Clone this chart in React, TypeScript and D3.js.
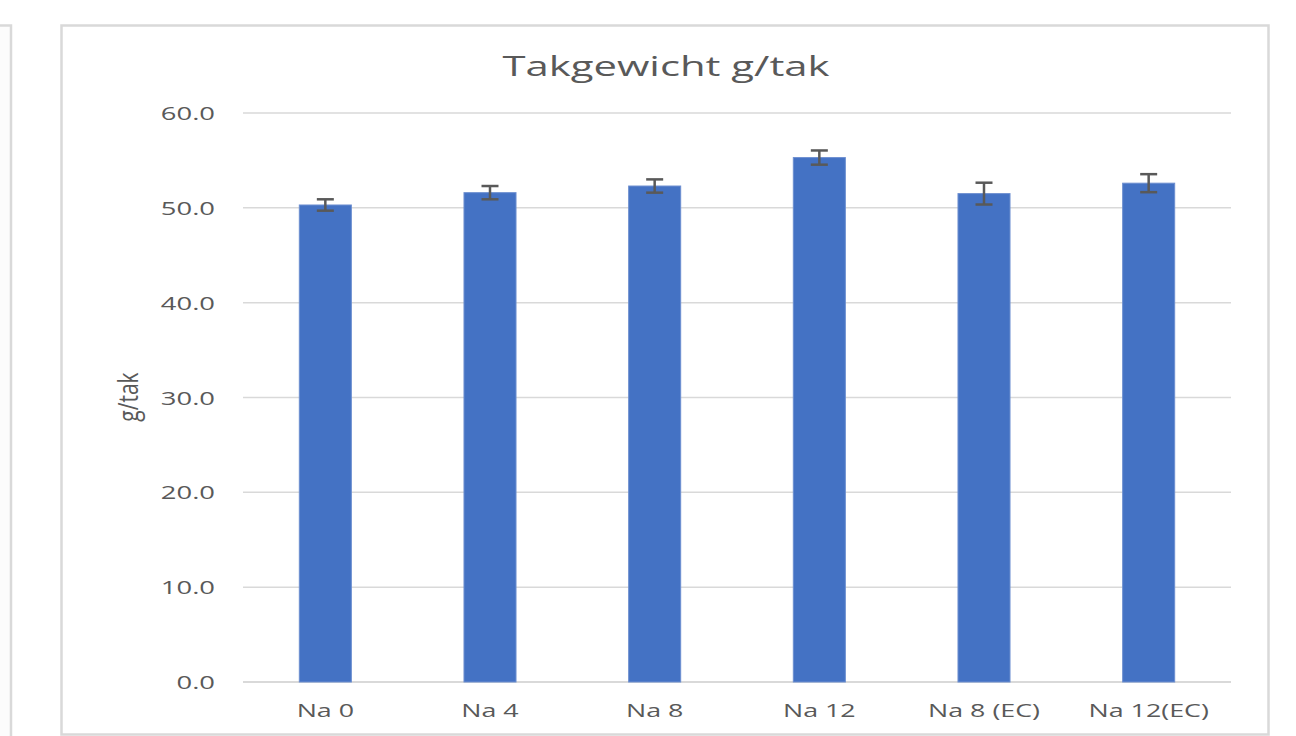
import React from "react";
import { scaleBand, scaleLinear } from "d3";

const width = 1296;
const height = 736;

const categories = ["Na 0", "Na 4", "Na 8", "Na 12", "Na 8 (EC)", "Na 12(EC)"];
const values = [50.3, 51.6, 52.3, 55.3, 51.5, 52.6];
const errors = [0.6, 0.7, 0.7, 0.75, 1.15, 0.95];
const yTicks = [0, 10, 20, 30, 40, 50, 60];
const title = "Takgewicht g/tak";
const yTitle = "g/tak";

const plotLeft = 243;
const plotRight = 1231;
const plotTop = 113;
const plotBottom = 682;

const xScale = scaleBand<string>()
  .domain(categories)
  .range([plotLeft, plotRight])
  .paddingInner(0.684)
  .paddingOuter(0.342);

const yScale = scaleLinear().domain([0, 60]).range([plotBottom, plotTop]);

const textColor = "#595959";
const gridColor = "#d9d9d9";
const barColor = "#4472c4";
const font = "'Open Sans', 'Noto Sans', sans-serif";

// the reference text is stretched sideways, so each label gets a horizontal scale
const Stretched = ({ x, y, sx, anchor, size, children, rotate = 0 }: any) => (
  <g transform={`translate(${x},${y}) scale(${sx},1) rotate(${rotate})`}>
    <text
      textAnchor={anchor}
      fontSize={size}
      fill={textColor}
      fontFamily={font}
    >
      {children}
    </text>
  </g>
);

const App = () => (
  <svg
    width={width}
    height={height}
    style={{ position: "absolute", left: 0, top: 0, background: "#ffffff" }}
  >
    {/* neighbouring chart panel, cut off on the left */}
    <rect x={-20} y={25.5} width={31} height={730} fill="#fcfcfc" stroke={gridColor} strokeWidth={2.5} />
    {/* chart panel */}
    <rect x={61.5} y={25.5} width={1207} height={709} fill="#ffffff" stroke={gridColor} strokeWidth={2.5} />

    <Stretched x={666} y={76} sx={1.55} anchor="middle" size={27}>
      {title}
    </Stretched>

    {yTicks.map((t) => (
      <g key={t}>
        <line
          x1={plotLeft}
          x2={plotRight}
          y1={yScale(t)}
          y2={yScale(t)}
          stroke={gridColor}
          strokeWidth={t === 0 ? 2 : 1.5}
        />
        <Stretched x={215} y={yScale(t) + 7} sx={1.48} anchor="end" size={18.5}>
          {t.toFixed(1)}
        </Stretched>
      </g>
    ))}

    <Stretched x={138} y={397} sx={1.3} anchor="middle" size={21} rotate={-90}>
      {yTitle}
    </Stretched>

    {categories.map((c, i) => {
      const x = xScale(c) as number;
      const cx = x + xScale.bandwidth() / 2;
      return (
        <g key={c}>
          <rect
            x={x}
            y={yScale(values[i])}
            width={xScale.bandwidth()}
            height={plotBottom - yScale(values[i])}
            fill={barColor}
            stroke="#6d8fd0"
            strokeWidth={1}
          />
          <line
            x1={cx}
            x2={cx}
            y1={yScale(values[i] + errors[i])}
            y2={yScale(values[i] - errors[i])}
            stroke={textColor}
            strokeWidth={2.5}
          />
          {[1, -1].map((s) => (
            <line
              key={s}
              x1={cx - 8.5}
              x2={cx + 8.5}
              y1={yScale(values[i] + s * errors[i])}
              y2={yScale(values[i] + s * errors[i])}
              stroke={textColor}
              strokeWidth={2.5}
            />
          ))}
          <Stretched x={cx} y={717} sx={1.45} anchor="middle" size={18.5}>
            {c}
          </Stretched>
        </g>
      );
    })}
  </svg>
);

export default App;
